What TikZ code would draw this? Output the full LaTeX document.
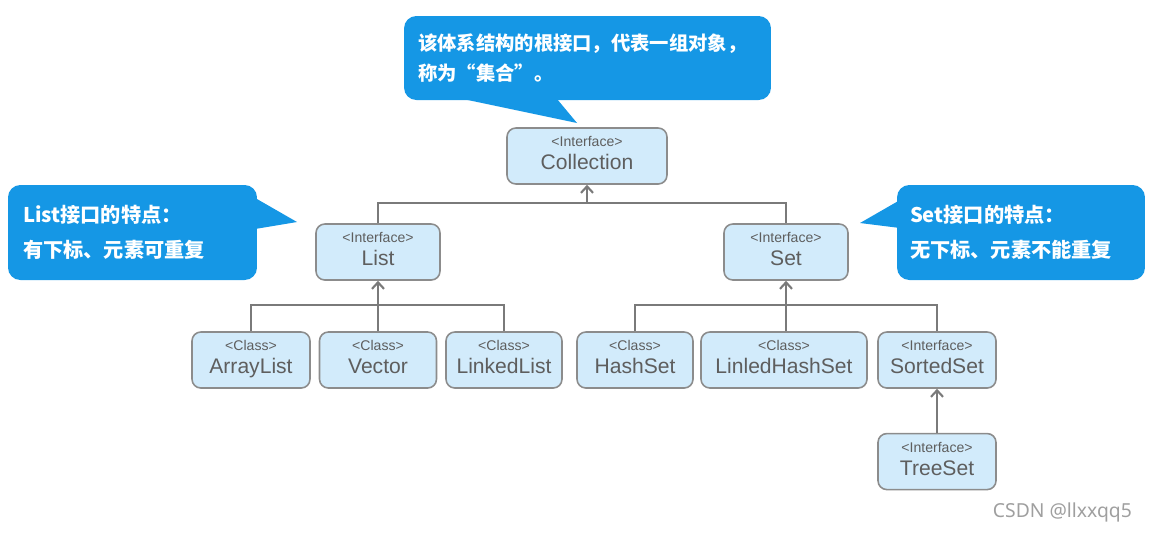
\documentclass[tikz,border=0pt]{standalone}
\usepackage{fontspec}
\setmainfont{Liberation Sans}
\newfontfamily\cjk{Noto Sans CJK SC}
\newfontfamily\marksans{Noto Sans}
\usetikzlibrary{arrows.meta,positioning,calc}

\definecolor{tipblue}{HTML}{1597E5}
\definecolor{boxfill}{HTML}{D2EBFB}
\definecolor{boxline}{HTML}{8C8C8C}
\definecolor{wire}{HTML}{7A7A7A}
\definecolor{boxtext}{HTML}{5E5E5E}

\newcommand{\uml}[2]{{\fontsize{8}{9}\selectfont <#1>\strut}\\{\fontsize{12}{13.5}\selectfont #2\strut}}

\begin{document}
\begin{tikzpicture}[
    x=0.02cm, y=-0.02cm,
    node distance=0.88cm and 0.18cm,
    cls/.style={draw=boxline, line width=0.9pt, rounded corners=5pt, fill=boxfill, text=boxtext, minimum width=2.34cm, minimum height=1.12cm, align=center, inner sep=1pt},
    tip/.style={fill=tipblue, rounded corners=7pt, text=white, align=left, font=\cjk\bfseries\fontsize{11.5}{19.8}\selectfont},
    ln/.style={draw=wire, line width=1pt},
    ar/.style={ln, line width=1.2pt, -{Straight Barb[length=1.3mm,width=2.4mm]}}
  ]
    \useasboundingbox (0,0) rectangle (1151,532);

    % callouts
    \node[tip, minimum width=7.34cm, minimum height=1.68cm, text width=6.78cm, inner xsep=0.28cm, font=\cjk\bfseries\fontsize{11}{17}\selectfont] (roottip) at (587.5,58) {该体系结构的根接口，代表一组对象，\\称为“集合”。};
    \fill[tipblue] (463,99) -- (577,123) -- (557,99) -- cycle;
    \node[tip, minimum width=4.98cm, minimum height=1.9cm, text width=4.38cm, inner xsep=0.3cm] (listtip) at (132.5,232.5) {List接口的特点：\\有下标、元素可重复};
    \fill[tipblue] (250,195) -- (297,222) -- (255,229) -- cycle;
    \node[tip, minimum width=4.96cm, minimum height=1.9cm, text width=4.44cm, inner xsep=0.26cm] (settip) at (1021,232.5) {Set接口的特点：\\无下标、元素不能重复};
    \fill[tipblue] (900,200) -- (860,223) -- (900,228) -- cycle;

    % interfaces
    \node[cls, minimum width=3.2cm] (coll) at (587,156) {\uml{Interface}{Collection}};
    \node[cls, minimum width=2.48cm] (list) at (378,252) {\uml{Interface}{List}};
    \node[cls, minimum width=2.48cm] (set) at (786,252) {\uml{Interface}{Set}};

    % implementations
    \node[cls, minimum width=2.36cm] (alist) at (251,360) {\uml{Class}{ArrayList}};
    \node[cls] (vec) at (378,360) {\uml{Class}{Vector}};
    \node[cls, minimum width=2.32cm] (llist) at (504,360) {\uml{Class}{LinkedList}};
    \node[cls, minimum width=2.32cm] (hset) at (635,360) {\uml{Class}{HashSet}};
    \node[cls, minimum width=3.32cm] (lhset) at (784,360) {\uml{Class}{LinledHashSet}};
    \node[cls, minimum width=2.36cm] (sset) at (937,360) {\uml{Interface}{SortedSet}};
    \node[cls, minimum width=2.36cm, below=of sset] (tset) {\uml{Interface}{TreeSet}};

    \coordinate (cbus) at (587,203);
    \draw[ln] (list.north) |- (cbus) -| (set.north);
    \draw[ar] (cbus) -- (coll.south);

    \coordinate (lbus) at (378,305);
    \draw[ln] (alist.north) |- (lbus) -| (llist.north);
    \draw[ar] (vec.north) -- (list.south);

    \coordinate (sbus) at (786,305);
    \draw[ln] (hset.north) |- (sbus) -| (sset.north);
    \draw[ar] (lhset.north -| set.south) -- (set.south);
    \draw[ar] (tset.north) -- (sset.south);

    \node[anchor=east, text=gray!75, font=\marksans\fontsize{11}{13}\selectfont] (mark) at (1138,512) {CSDN @llxxqq5};
  \end{tikzpicture}
\end{document}
